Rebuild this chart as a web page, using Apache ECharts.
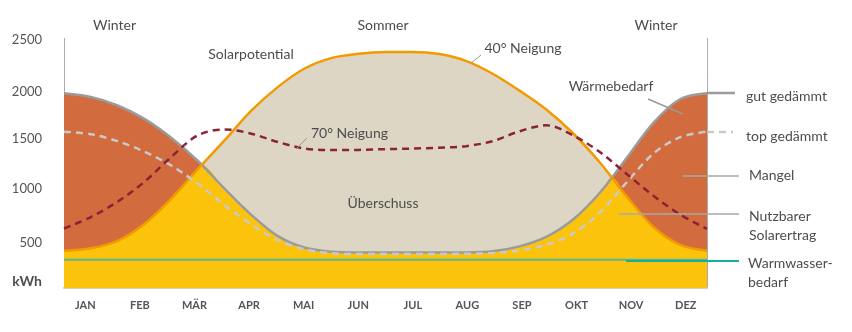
<!DOCTYPE html>
<html><head><meta charset="utf-8">
<script src="https://cdn.jsdelivr.net/npm/echarts@6/dist/echarts.min.js"></script>
<style>html,body{margin:0;padding:0;background:#fff}#c{width:852px;height:332px}</style>
</head><body><div id="c"></div>
<script>
// ---- data (kWh) ----
const months = ['JAN','FEB','MÄR','APR','MAI','JUN','JUL','AUG','SEP','OKT','NOV','DEZ'];
const yTickStep = 500;
const yMax = 2500;
// positions in months (0 = start of Jan, 12 = end of Dec), every half month
const xPos = [0,0.5,1,1.5,2,2.5,3,3.5,4,4.5,5,5.5,6,6.5,7,7.5,8,8.5,9,9.5,10,10.5,11,11.5,12];
const solar40   = [376,400,475,645,900,1200,1490,1790,2030,2215,2320,2362,2378,2378,2358,2290,2160,1990,1800,1560,1265,925,615,435,376];
const solar70   = [600,715,870,1070,1320,1540,1598,1555,1470,1405,1390,1392,1400,1405,1415,1430,1480,1580,1640,1540,1370,1150,930,740,595];
const waermeGut = [1963,1925,1840,1705,1515,1280,1000,735,520,405,365,357,357,357,357,358,370,420,515,690,960,1310,1665,1905,1963];
const waermeTop = [1576,1550,1480,1375,1235,1050,835,640,480,390,350,342,342,342,343,345,352,378,435,550,760,1065,1355,1520,1576];
// usable solar yield (lower of the two curves), including the two crossing points
const nutzbarX = [0,0.5,1,1.5,2,2.5,2.57,3,3.5,4,4.5,5,5.5,6,6.5,7,7.5,8,8.5,9,9.5,10,10.221,10.5,11,11.5,12];
const nutzbar  = [376,400,475,645,900,1200,1241,1000,735,520,405,365,357,357,357,357,358,370,420,515,690,960,1115,925,615,435,376];
const warmwasserX = [0,12];
const warmwasser  = [285,285];

const pairs = (xs, ys) => xs.map((x,i)=>[x, ys[i]]);

const chart = echarts.init(document.getElementById('c'), null, {renderer:'canvas'});
const FONT = 'Lato, "Noto Sans", sans-serif';
const TXT = '#4d4d4d';

function txt(t, x, y, align, font) {
  return {type:'text', z:100, style:{text:t, x:x, y:y, align:align||'center', verticalAlign:'middle',
    font:font || ('14px ' + FONT), fill:TXT}};
}
function ln(x1,y1,x2,y2,stroke,w,dash){
  return {type:'line', z:99, shape:{x1,y1,x2,y2}, style:{stroke:stroke, lineWidth:w, lineDash:dash||null}};
}

const smooth = 0.33;
chart.setOption({
  animation:false,
  grid:[
    {left:64, right:145, top:40, bottom:44},
    {left:58, width:655, top:40, bottom:44}
  ],
  xAxis:[
    {type:'value', gridIndex:0, min:0, max:12, axisLine:{show:true, onZero:false, lineStyle:{color:'#D6D0C1', width:2}},
      axisTick:{show:false}, axisLabel:{show:false}, splitLine:{show:false}},
    {type:'category', gridIndex:1, data:months, boundaryGap:true, axisLine:{show:false}, axisTick:{show:false},
      axisLabel:{margin:12, color:'#555', fontFamily:FONT, fontSize:11, fontWeight:'bold'}, splitLine:{show:false}}
  ],
  yAxis:[
    {type:'value', gridIndex:0, min:0, max:yMax, interval:yTickStep,
      axisLine:{show:true, lineStyle:{color:'#ABABAB', width:1}}, axisTick:{show:false}, splitLine:{show:false},
      axisLabel:{margin:22, color:'#555', fontFamily:FONT, fontSize:13,
        formatter:v => v===0 ? '' : (v===500 ? '{a|500}' : (v===2000 ? '{b|2000}' : String(v))),
        rich:{a:{padding:[9,0,0,0], color:'#555', fontFamily:FONT, fontSize:13},
              b:{padding:[5,0,0,0], color:'#555', fontFamily:FONT, fontSize:13}}}},
    {type:'value', gridIndex:0, min:0, max:yMax, interval:yTickStep, position:'right',
      axisLine:{show:true, lineStyle:{color:'#ABABAB', width:1}}, axisTick:{show:false}, splitLine:{show:false}, axisLabel:{show:false}},
    {type:'value', gridIndex:1, show:false}
  ],
  series:[
    {name:'Überschuss', type:'line', smooth:smooth, showSymbol:false, z:1, data:pairs(xPos, solar40),
      lineStyle:{width:0}, areaStyle:{color:'#DDD6C5', opacity:1}},
    {name:'Mangel', type:'line', smooth:smooth, showSymbol:false, z:2, data:pairs(xPos, waermeGut),
      lineStyle:{width:0}, areaStyle:{color:'#D26B3D', opacity:1}},
    {name:'Nutzbarer Solarertrag', type:'line', smooth:smooth, showSymbol:false, z:3, data:pairs(nutzbarX, nutzbar),
      lineStyle:{width:0}, areaStyle:{color:'#FCC30C', opacity:1}},
    {name:'Warmwasserbedarf', type:'line', showSymbol:false, z:4, data:pairs(warmwasserX, warmwasser),
      lineStyle:{width:2, color:'#58B78D'}},
    {name:'gut gedämmt', type:'line', smooth:smooth, showSymbol:false, z:5, data:pairs(xPos, waermeGut),
      lineStyle:{width:2.5, color:'#9B9B9B'}},
    {name:'40° Neigung', type:'line', smooth:smooth, showSymbol:false, z:6, data:pairs(xPos, solar40),
      lineStyle:{width:2.5, color:'#F39A00'}},
    {name:'top gedämmt', type:'line', smooth:smooth, showSymbol:false, z:7, data:pairs(xPos, waermeTop),
      lineStyle:{width:2.5, color:'#C9C9C9', type:[7,5]}},
    {name:'70° Neigung', type:'line', smooth:smooth, showSymbol:false, z:8, data:pairs(xPos, solar70),
      lineStyle:{width:2.5, color:'#8B2336', type:[7,5]}}
  ],
  graphic:[
    txt('Winter', 114.5, 25),
    txt('Sommer', 383, 25),
    txt('Winter', 656, 25),
    txt('Solarpotential', 251, 54),
    txt('40° Neigung', 523, 48),
    txt('70° Neigung', 349.5, 133),
    txt('Wärmebedarf', 611, 86),
    txt('Überschuss', 383, 203),
    txt('gut gedämmt', 746, 96, 'left'),
    txt('top gedämmt', 746, 136, 'left'),
    txt('Mangel', 749, 175, 'left'),
    txt('Nutzbarer', 749, 216, 'left'),
    txt('Solarertrag', 749, 235, 'left'),
    txt('Warmwasser-', 748, 263, 'left'),
    txt('bedarf', 748, 282, 'left'),
    txt('kWh', 42, 281, 'right', 'bold 14px ' + FONT),
    ln(64.5,38,64.5,41,'#ABABAB',1),
    ln(707.5,38,707.5,41,'#ABABAB',1),
    ln(471,63,481,55,'#9a9a9a',1),
    ln(296,149,307,138,'#9a9a9a',1),
    ln(648,99,683,114,'#9a9a9a',1.5),
    ln(683,176,739,176,'#A8A8A8',1.5),
    ln(619,214,739,214,'#A8A8A8',1.5),
    ln(626,261,739,261,'#14AFA0',2),
    ln(707,93,735,93,'#9B9B9B',2.5),
    ln(707,132,733,132,'#C9C9C9',2.5,[7,5])
  ]
});
</script>
</body></html>
